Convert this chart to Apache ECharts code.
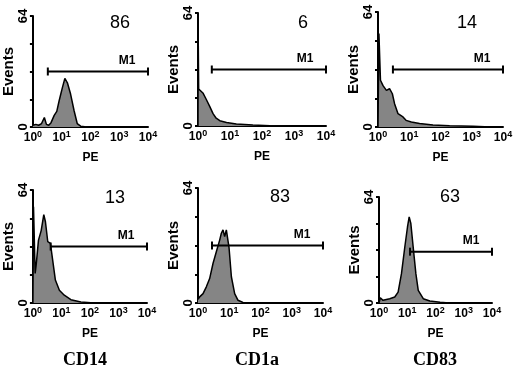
<!DOCTYPE html>
<html>
<head>
<meta charset="utf-8">
<script src="https://cdn.jsdelivr.net/npm/echarts@6/dist/echarts.min.js"></script>
<style>
  html, body { margin: 0; padding: 0; background: #fff; }
  #chart { width: 520px; height: 376px; }
</style>
</head>
<body>
<div id="chart"></div>
<script>
// marker names under each column, % positive above each histogram
var markers = ['CD14', 'CD1a', 'CD83'];
var positives = ['86', '6', '14', '13', '83', '63'];
// M1 gate: start PE value and height (events), gate ends at 10^4
var gateStart = [3.3, 2.7, 3.0, 4.2, 2.8, 12.5];
var gateLevel = [32, 32, 32, 32, 32, 31];
var yTicks = [0, 64];
var xTicks = [1, 10, 100, 1000, 10000];

// histograms: [PE, events]
var histTop1 = [[1, 1], [1.26, 1.5], [1.58, 1], [2.0, 2], [2.5, 5.5], [2.95, 1.5], [3.55, 1],
  [4.27, 2.5], [5.5, 6.7], [6.76, 9], [8.13, 15], [9.33, 19], [10.7, 23], [12.9, 28],
  [14.5, 27], [15.8, 25.5], [20.4, 19], [26.9, 9.5], [34.7, 2], [45.7, 0.5], [63, 0.2],
  [100, 0], [10000, 0]];
var histTop2 = [[1, 0], [1.01, 55], [1.05, 21], [1.12, 20], [1.45, 18.5], [1.82, 15],
  [2.34, 11], [2.95, 7], [3.7, 4.4], [4.8, 3], [7.8, 2], [15.8, 1.1], [52, 0.6],
  [178, 0.2], [1000, 0], [10000, 0]];
var histTop3 = [[1, 0], [1.07, 52], [1.2, 26], [1.45, 23], [1.86, 20.4], [2.34, 21.3],
  [2.88, 18.5], [3.39, 13], [4.37, 7.4], [6.3, 5.6], [7.9, 3.7], [11.7, 2.8], [21.4, 1.9],
  [57.5, 1.1], [195, 0.7], [1100, 0.4], [4000, 0], [10000, 0]];
var histBot1 = [[1, 0], [1.05, 54.5], [1.2, 16.7], [1.31, 22], [1.57, 35.6], [1.95, 41],
  [2.41, 50], [2.75, 46], [3.32, 34.7], [4.11, 33.7], [4.96, 24], [6.14, 13], [8.47, 7.2],
  [12.6, 4.4], [21.5, 1.9], [48, 0.6], [139, 0], [10000, 0]];
var histBot2 = [[1, 2], [1.13, 3.4], [1.45, 5.2], [1.85, 9], [2.36, 13.6], [3.02, 22],
  [3.86, 28.5], [4.94, 35], [5.58, 38.8], [6.31, 40.7], [7.13, 37], [8.07, 40.7],
  [9.82, 31], [11.7, 14.6], [14.9, 5.2], [19.1, 1.5], [27.5, 0.3], [60, 0], [10000, 0]];
var histBot3 = [[1, 0], [1.11, 3.2], [1.39, 1.6], [2.4, 2.6], [3.61, 3.6], [4.75, 6.6],
  [6.24, 17.7], [8.2, 33.8], [10.2, 45.9], [11.7, 52], [13.4, 48], [16.2, 33.8],
  [20.2, 17.7], [24.5, 7.6], [36.9, 2.6], [63, 1.2], [145, 0.4], [300, 0], [10000, 0]];
var histograms = [histTop1, histTop2, histTop3, histBot1, histBot2, histBot3];

// plot boxes [left, top, width, height] and text centres
var boxes = [[32, 16, 116, 111], [198, 13, 128, 113], [378, 12, 125, 115],
  [32, 190, 115, 113], [198, 188, 125, 115], [379, 197, 113, 106]];
var numPos = [[120, 23], [303, 23], [467, 23], [115, 198], [280, 197], [450, 197]];
var markerPos = [[85, 360], [257, 360], [435, 360]];

var sans = 'Liberation Sans';

var grids = [], xAxes = [], yAxes = [], series = [], graphics = [];

for (var i = 0; i < 6; i++) {
  var b = boxes[i];
  grids.push({ left: b[0], top: b[1], width: b[2], height: b[3] });

  xAxes.push({
    gridIndex: i, type: 'log', logBase: 10, min: xTicks[0], max: xTicks[xTicks.length - 1],
    name: 'PE', nameLocation: 'middle', nameGap: 25,
    nameTextStyle: { fontFamily: sans, fontWeight: 'bold', fontSize: 12, color: '#000' },
    axisLine: { lineStyle: { color: '#000', width: 2 } },
    axisTick: { show: false },
    splitLine: { show: false },
    axisLabel: {
      margin: 3, fontFamily: sans, fontWeight: 'bold', fontSize: 12, color: '#000',
      formatter: function (v) { return '10{s|' + Math.round(Math.log10(v)) + '}'; },
      rich: {
        s: { fontFamily: sans, fontWeight: 'bold', fontSize: 9, color: '#000', padding: [0, 0, 7, 0] }
      }
    }
  });

  yAxes.push({
    gridIndex: i, type: 'value', min: yTicks[0], max: yTicks[1], interval: 16,
    name: 'Events', nameLocation: 'middle', nameGap: 16,
    nameTextStyle: { fontFamily: sans, fontWeight: 'bold', fontSize: 15, color: '#000' },
    axisLine: { show: true, lineStyle: { color: '#000', width: 2 } },
    axisTick: { show: true, length: 3, lineStyle: { color: '#000', width: 2 } },
    splitLine: { show: false },
    axisLabel: {
      rotate: 90, margin: 3, fontFamily: sans, fontWeight: 'bold', fontSize: 13, color: '#000',
      formatter: function (v) { return yTicks.indexOf(v) >= 0 ? String(v) : ''; }
    }
  });

  series.push({
    type: 'line', xAxisIndex: i, yAxisIndex: i, data: histograms[i],
    symbol: 'none', smooth: false, silent: true,
    lineStyle: { color: '#000', width: 1.5 },
    areaStyle: { color: '#858585', opacity: 1 }
  });

  series.push({
    type: 'line', xAxisIndex: i, yAxisIndex: i, silent: true,
    data: [[gateStart[i], gateLevel[i]], {
      value: [xTicks[xTicks.length - 1], gateLevel[i]],
      label: {
        show: true, position: 'top', distance: 1, offset: [-21, 0], formatter: 'M1',
        fontFamily: sans, fontWeight: 'bold', fontSize: 12, color: '#000'
      }
    }],
    symbol: 'rect', symbolSize: [2, 8], showSymbol: true,
    itemStyle: { color: '#000' },
    lineStyle: { color: '#000', width: 2 }
  });

  graphics.push({
    type: 'text',
    style: {
      x: numPos[i][0], y: numPos[i][1], text: positives[i],
      align: 'center', verticalAlign: 'middle', textAlign: 'center', textVerticalAlign: 'middle',
      font: '18px "Liberation Sans"', fill: '#000'
    }
  });
}

for (var j = 0; j < markers.length; j++) {
  graphics.push({
    type: 'text',
    style: {
      x: markerPos[j][0], y: markerPos[j][1], text: markers[j],
      align: 'center', verticalAlign: 'middle', textAlign: 'center', textVerticalAlign: 'middle',
      font: 'bold 18px "Liberation Serif"', fill: '#000'
    }
  });
}

var myChart = echarts.init(document.getElementById('chart'));
myChart.setOption({
  backgroundColor: '#fff',
  animation: false,
  grid: grids,
  xAxis: xAxes,
  yAxis: yAxes,
  series: series,
  graphic: graphics
});
</script>
</body>
</html>
